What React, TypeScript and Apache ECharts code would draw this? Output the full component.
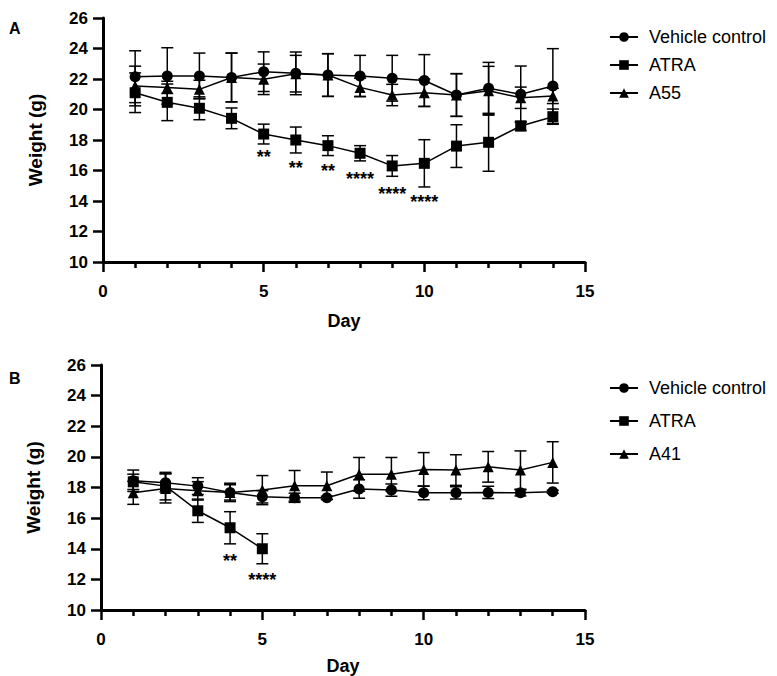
import React, { useEffect, useRef } from 'react';
import * as echarts from 'echarts';

// ---------- Data ----------
const days = [1, 2, 3, 4, 5, 6, 7, 8, 9, 10, 11, 12, 13, 14];

// Panel A
const aVehicleMean = [22.15, 22.2, 22.2, 22.1, 22.48, 22.37, 22.26, 22.2, 22.05, 21.9, 20.95, 21.39, 21.0, 21.54];
const aVehicleSd = [1.7, 1.85, 1.5, 1.6, 1.3, 1.4, 1.4, 1.35, 1.5, 1.7, 1.4, 1.7, 1.85, 2.45];
const aAtraMean = [21.1, 20.47, 20.08, 19.42, 18.39, 18.0, 17.63, 17.13, 16.3, 16.47, 17.6, 17.85, 18.92, 19.53];
const aAtraSd = [1.3, 1.2, 0.75, 0.68, 0.65, 0.85, 0.65, 0.5, 0.68, 1.55, 1.4, 1.9, 0.3, 0.5];
const aA55Mean = [21.54, 21.45, 21.32, 22.1, 21.98, 22.35, 22.26, 21.45, 20.95, 21.1, 20.95, 21.23, 20.77, 20.89];
const aA55Sd = [1.3, 0.4, 0.6, 1.6, 1.0, 1.2, 1.4, 0.6, 0.7, 0.9, 1.4, 1.6, 0.7, 0.5];
const aSigDays = [5, 6, 7, 8, 9, 10];
const aSigY = [17.15, 16.4, 16.23, 15.7, 14.7, 14.2];
const aSigLabels = ['**', '**', '**', '****', '****', '****'];

// Panel B
const bAtraDays = [1, 2, 3, 4, 5];
const bVehicleMean = [18.44, 18.31, 18.09, 17.68, 17.39, 17.33, 17.33, 17.9, 17.83, 17.65, 17.65, 17.68, 17.65, 17.72];
const bVehicleSd = [0.7, 0.6, 0.55, 0.6, 0.4, 0.3, 0.1, 0.6, 0.4, 0.45, 0.4, 0.4, 0.2, 0.1];
const bAtraMean = [18.37, 18.09, 16.48, 15.37, 14.0];
const bAtraSd = [0.5, 0.9, 0.76, 1.05, 0.98];
const bA41Mean = [17.65, 17.94, 17.78, 17.68, 17.83, 18.11, 18.11, 18.86, 18.86, 19.18, 19.14, 19.35, 19.14, 19.64];
const bA41Sd = [0.75, 0.95, 0.6, 0.5, 0.95, 1.0, 0.9, 1.1, 1.1, 1.1, 1.0, 1.0, 1.25, 1.35];
const bSigDays = [4, 5];
const bSigY = [13.47, 12.23];
const bSigLabels = ['**', '****'];

const xTicks = { min: 0, max: 15, interval: 5 };
const yTicks = { min: 10, max: 26, interval: 2 };

const FONT = '"Liberation Sans", Arial, Helvetica, sans-serif';

export default function App() {
  const ref = useRef<HTMLDivElement>(null);

  useEffect(() => {
    const chart = echarts.init(ref.current!, null, { renderer: 'svg' });

    const errRender = (params: any, api: any) => {
      const x = api.value(0);
      const m = api.value(1);
      const s = api.value(2);
      const hi = api.coord([x, m + s]);
      const lo = api.coord([x, m - s]);
      const cw = 6;
      const style = { stroke: '#000', lineWidth: 1.5, fill: 'none' };
      return {
        type: 'group',
        children: [
          { type: 'line', shape: { x1: hi[0], y1: hi[1], x2: lo[0], y2: lo[1] }, style },
          { type: 'line', shape: { x1: hi[0] - cw, y1: hi[1], x2: hi[0] + cw, y2: hi[1] }, style },
          { type: 'line', shape: { x1: lo[0] - cw, y1: lo[1], x2: lo[0] + cw, y2: lo[1] }, style },
        ],
      };
    };

    const sigRender = (params: any, api: any) => {
      const p = api.coord([api.value(0), api.value(1)]);
      return {
        type: 'text',
        x: p[0],
        y: p[1] + 4,
        style: {
          text: api.value(2),
          fontSize: 18,
          fontWeight: 'bold',
          fontFamily: FONT,
          fill: '#000',
          align: 'center',
          verticalAlign: 'middle',
        },
      };
    };

    const errSeries = (xs: number[], mean: number[], sd: number[], gi: number) => ({
      type: 'custom',
      xAxisIndex: gi,
      yAxisIndex: gi,
      renderItem: errRender,
      encode: { x: 0, y: 1 },
      data: xs.map((d, i) => [d, mean[i], sd[i]]),
      silent: true,
      z: 2,
    });

    const lineSeries = (name: string, symbol: string, size: number, xs: number[], mean: number[], gi: number) => ({
      type: 'line',
      name,
      xAxisIndex: gi,
      yAxisIndex: gi,
      symbol,
      symbolSize: size,
      showAllSymbol: true,
      itemStyle: { color: '#000' },
      lineStyle: { color: '#000', width: 1.5 },
      data: xs.map((d, i) => [d, mean[i]]),
      z: 3,
    });

    const sigSeries = (xs: number[], ys: number[], labels: string[], gi: number) => ({
      type: 'custom',
      xAxisIndex: gi,
      yAxisIndex: gi,
      renderItem: sigRender,
      encode: { x: 0, y: 1 },
      dimensions: ['x', 'y', { name: 'label', type: 'ordinal' }],
      data: xs.map((d, i) => [d, ys[i], labels[i]]),
      silent: true,
      z: 4,
    });

    const xAxis = (gi: number, nameGap: number) => ({
      type: 'value',
      gridIndex: gi,
      ...xTicks,
      name: 'Day',
      nameLocation: 'middle',
      nameGap,
      nameTextStyle: { fontFamily: FONT, fontWeight: 'bold', fontSize: 18, color: '#000' },
      axisLine: { show: true, onZero: false, lineStyle: { color: '#000', width: 3 } },
      axisTick: { show: true, length: 10, lineStyle: { color: '#000', width: 2.5 } },
      minorTick: { show: true, splitNumber: 5, length: 6, lineStyle: { color: '#000', width: 2.5 } },
      splitLine: { show: false },
      axisLabel: { margin: 21, fontFamily: FONT, fontWeight: 'bold', fontSize: 17, color: '#000' },
    });

    const yAxis = (gi: number) => ({
      type: 'value',
      gridIndex: gi,
      ...yTicks,
      name: 'Weight (g)',
      nameLocation: 'middle',
      nameGap: 58,
      nameTextStyle: { fontFamily: FONT, fontWeight: 'bold', fontSize: 19, color: '#000' },
      axisLine: { show: true, onZero: false, lineStyle: { color: '#000', width: 3 } },
      axisTick: { show: true, length: 10, lineStyle: { color: '#000', width: 2.5 } },
      splitLine: { show: false },
      axisLabel: { margin: 15, fontFamily: FONT, fontWeight: 'bold', fontSize: 17, color: '#000' },
    });

    const legend = (top: number, gap: number, names: string[]) => ({
      orient: 'vertical',
      left: 604,
      top,
      itemGap: gap,
      itemWidth: 28,
      itemHeight: 12,
      selectedMode: false,
      data: names,
      textStyle: { fontFamily: FONT, fontSize: 18, color: '#000', padding: [0, 0, 0, 6] },
    });

    const option: any = {
      animation: false,
      backgroundColor: '#fff',
      graphic: [
        { type: 'text', left: 9, top: 20, style: { text: 'A', fontFamily: FONT, fontWeight: 'bold', fontSize: 16, fill: '#000' } },
        { type: 'text', left: 9, top: 370, style: { text: 'B', fontFamily: FONT, fontWeight: 'bold', fontSize: 16, fill: '#000' } },
      ],
      grid: [
        { left: 103, top: 18, width: 482, height: 244 },
        { left: 101, top: 365, width: 484, height: 245 },
      ],
      xAxis: [xAxis(0, 50), xAxis(1, 47)],
      yAxis: [yAxis(0), yAxis(1)],
      legend: [
        legend(23, 10, ['Vehicle control', 'ATRA', 'A55']),
        legend(374, 15, ['Vehicle control', 'ATRA', 'A41']),
      ],
      series: [
        errSeries(days, aVehicleMean, aVehicleSd, 0),
        errSeries(days, aAtraMean, aAtraSd, 0),
        errSeries(days, aA55Mean, aA55Sd, 0),
        lineSeries('Vehicle control', 'circle', 11, days, aVehicleMean, 0),
        lineSeries('ATRA', 'rect', 11, days, aAtraMean, 0),
        lineSeries('A55', 'triangle', 11, days, aA55Mean, 0),
        sigSeries(aSigDays, aSigY, aSigLabels, 0),

        errSeries(days, bVehicleMean, bVehicleSd, 1),
        errSeries(bAtraDays, bAtraMean, bAtraSd, 1),
        errSeries(days, bA41Mean, bA41Sd, 1),
        lineSeries('Vehicle control', 'circle', 11, days, bVehicleMean, 1),
        lineSeries('ATRA', 'rect', 11, bAtraDays, bAtraMean, 1),
        lineSeries('A41', 'triangle', 11, days, bA41Mean, 1),
        sigSeries(bSigDays, bSigY, bSigLabels, 1),
      ],
    };

    chart.setOption(option);
    return () => chart.dispose();
  }, []);

  return (
    <div
      ref={ref}
      style={{ position: 'fixed', left: 0, top: 0, width: 777, height: 676, background: '#fff' }}
    />
  );
}
